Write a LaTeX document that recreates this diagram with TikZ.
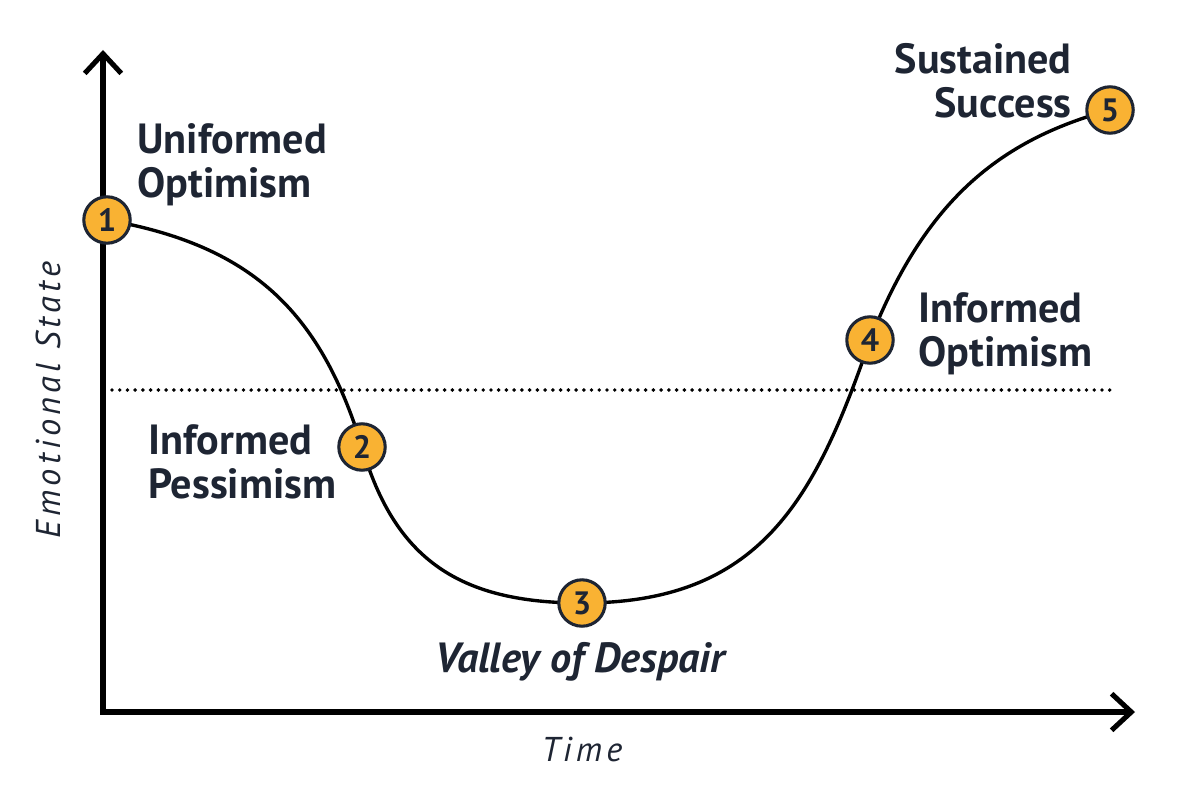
\documentclass[tikz,border=0pt]{standalone}
\usepackage{fontspec}
\setmainfont{PT Sans}
\newfontfamily\spacedfont[LetterSpace=12]{PT Sans}
\usetikzlibrary{arrows.meta}
\definecolor{ink}{HTML}{1E2533}
\definecolor{gold}{HTML}{F9B233}
\tikzset{
  stage/.style={circle, draw=ink, line width=2.2pt, fill=gold, minimum size=33pt, inner sep=0pt,
    font=\fontsize{23}{23}\selectfont\bfseries, text=ink},
  phase/.style={font=\fontsize{30}{31}\selectfont\bfseries, text=ink, inner sep=0pt},
  axislabel/.style={font=\spacedfont\fontsize{24.5}{24.5}\selectfont\itshape, text=ink, inner sep=0pt}
}
\begin{document}
\begin{tikzpicture}[x=0.025cm, y=-0.025cm]
  \useasboundingbox (0,0) rectangle (1200,800);
  % axes
  \coordinate (origin) at (103,712);
  \coordinate (ytop) at (103,50);
  \coordinate (xend) at (1135,712);
  \draw [black, line width=3.6pt, {Straight Barb[length=14pt,width=26pt,line width=3.6pt]}-{Straight Barb[length=14pt,width=26pt,line width=3.6pt]}] (ytop) -- (origin) -- (xend);
  % neutral level
  \coordinate (levelL) at (112,390);
  \coordinate (levelR) at (1115,390);
  \draw [black, line width=2.8pt, line cap=round, dash pattern=on 0pt off 5.5pt] (levelL) -- (levelR);
  % stages
  \coordinate (s1) at (107,220);
  \coordinate (s2) at (362,447);
  \coordinate (s3) at (582,603);
  \coordinate (s4) at (870,340);
  \coordinate (s5) at (1110,110);
  \draw [black, line width=2.4pt] (s1) .. controls (250,245) and (320,310) .. (s2)
    .. controls (395,560) and (460,603) .. (s3)
    .. controls (760,603) and (815,500) .. (s4)
    .. controls (925,200) and (1000,140) .. (s5);
  \foreach \n in {1,...,5}
    \node [stage] (c\n) at (s\n) {\n};
  % labels
  \node [phase, anchor=west, align=left] (uninf) at (137,165) {Uniformed\\Optimism};
  \node [phase, anchor=west, align=left] (pess) at (148,462) {Informed\\Pessimism};
  \node [phase, font=\fontsize{30}{31}\selectfont\bfseries\itshape] (valley) at (580,662) {Valley of Despair};
  \node [phase, anchor=west, align=left] (inf) at (918,334) {Informed\\Optimism};
  \node [phase, anchor=east, align=right] (succ) at (1072,81) {Sustained\\Success};
  \node [axislabel] (time) at (582,750) {Time};
  \node [axislabel, rotate=90] (emo) at (48,400) {Emotional State};
\end{tikzpicture}
\end{document}
